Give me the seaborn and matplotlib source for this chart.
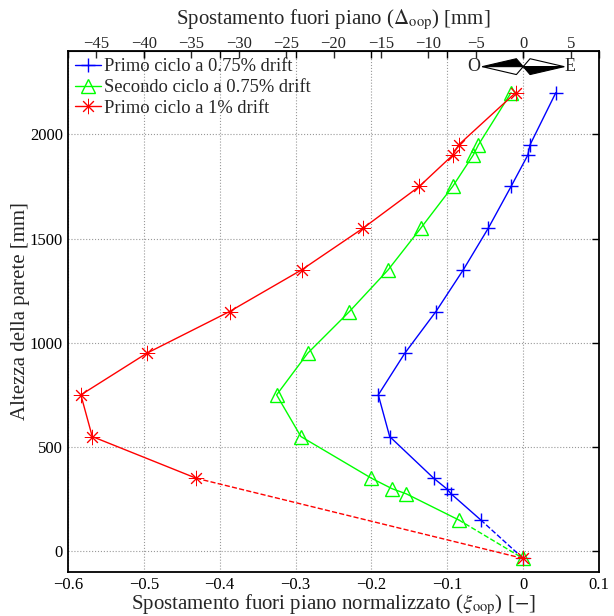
import matplotlib
matplotlib.use('Agg')
import matplotlib.pyplot as plt
from matplotlib.patches import Polygon
import seaborn as sns

# heights along the wall [mm]
heights = [2200, 1950, 1900, 1750, 1550, 1350, 1150, 950, 750, 550, 350, 300, 275, 150]
heights_red = [2200, 1950, 1900, 1750, 1550, 1350, 1150, 950, 750, 550, 350]

# normalised out-of-plane displacement
primo_075 = [0.043, 0.009, 0.006, -0.016, -0.046, -0.079, -0.115, -0.156,
             -0.191, -0.176, -0.118, -0.101, -0.095, -0.056]
secondo_075 = [-0.016, -0.059, -0.066, -0.093, -0.135, -0.178, -0.229, -0.284,
               -0.325, -0.293, -0.200, -0.173, -0.154, -0.085]
primo_1 = [-0.010, -0.085, -0.093, -0.137, -0.211, -0.292, -0.387, -0.496,
           -0.583, -0.568, -0.431]

# base point (foundation)
base_x = 0.0
base_h = -35

thickness = 80  # mm, Delta = xi * thickness

labels = ['Primo ciclo a 0.75% drift', 'Secondo ciclo a 0.75% drift', 'Primo ciclo a 1% drift']
colors = ['#0000ff', '#00ff00', '#ff0000']
markers = ['+', '^', (8, 2, 0)]
msizes = [10, 10, 11]
mews = [1.0, 1.0, 0.7]

sns.set_style('white')
plt.rcParams['font.family'] = ['Liberation Serif', 'DejaVu Serif']
plt.rcParams['mathtext.fontset'] = 'stix'

fig = plt.figure(figsize=(6.14, 6.16), dpi=100)
ax = fig.add_axes([0.1107, 0.0714, 0.865, 0.8458])

series = [(primo_075, heights), (secondo_075, heights), (primo_1, heights_red)]
for (xs, hs), lab, col, mk, ms, mew in zip(series, labels, colors, markers, msizes, mews):
    mfc = 'none' if mk == '^' else col
    sns.lineplot(x=xs, y=hs, sort=False, estimator=None, ax=ax, color=col,
                 marker=mk, markersize=ms, markerfacecolor=mfc,
                 markeredgecolor=col, markeredgewidth=mew, linewidth=1.0,
                 label=lab)
    # dashed link to the base
    sns.lineplot(x=[xs[-1], base_x], y=[hs[-1], base_h], sort=False, estimator=None,
                 ax=ax, color=col, linestyle='--', linewidth=1.0, marker=mk,
                 markersize=ms, markerfacecolor=mfc, markeredgecolor=col,
                 markeredgewidth=mew, markevery=[1], label='_nolegend_')

ax.set_xlim(-0.6, 0.1)
ax.set_ylim(-100, 2400)
ax.set_xticks([-0.6, -0.5, -0.4, -0.3, -0.2, -0.1, 0, 0.1])
ax.set_xticklabels(['\u22120.6', '\u22120.5', '\u22120.4', '\u22120.3', '\u22120.2',
                    '\u22120.1', '0', '0.1'])
ax.set_yticks([0, 500, 1000, 1500, 2000])
ax.tick_params(direction='in', length=5, width=1, top=True, right=True,
               labelsize=12, colors='black')
ax.grid(True, linestyle=':', color='#999999', linewidth=0.8)
for sp in ax.spines.values():
    sp.set_color('black')
    sp.set_linewidth(1.3)

ax.set_xlabel(r'Spostamento fuori piano normalizzato ($\xi_{\rm oop}$) [$-$]',
              fontsize=15, labelpad=0)
ax.set_ylabel('Altezza della parete [mm]', fontsize=15, labelpad=0)

top = ax.secondary_xaxis('top', functions=(lambda x: x * thickness,
                                           lambda d: d / thickness))
top.set_xticks([-45, -40, -35, -30, -25, -20, -15, -10, -5, 0, 5])
top.set_xticklabels(['\u221245', '\u221240', '\u221235', '\u221230', '\u221225',
                     '\u221220', '\u221215', '\u221210', '\u22125', '0', '5'])
top.tick_params(direction='in', length=5, width=1, labelsize=12, pad=-1)
top.set_xlabel(r'Spostamento fuori piano ($\Delta_{\rm oop}$) [mm]', fontsize=15,
               labelpad=9)

leg = ax.legend(loc='upper left', frameon=False, fontsize=13.3, handlelength=1.4,
                handletextpad=0.15, borderaxespad=0.15, labelspacing=0.2,
                borderpad=0.25)

# compass rose (O - E)
cx, cy, L, d, h = 0.0, 2325, 0.054, 0.009, 38
ax.add_patch(Polygon([(cx - L, cy), (cx - d, cy + h), (cx, cy)], closed=True,
                     facecolor='black', edgecolor='black', lw=0.8, zorder=5))
ax.add_patch(Polygon([(cx - L, cy), (cx - d, cy - h), (cx, cy)], closed=True,
                     facecolor='white', edgecolor='black', lw=0.8, zorder=5))
ax.add_patch(Polygon([(cx + L, cy), (cx + d, cy + h), (cx, cy)], closed=True,
                     facecolor='white', edgecolor='black', lw=0.8, zorder=5))
ax.add_patch(Polygon([(cx + L, cy), (cx + d, cy - h), (cx, cy)], closed=True,
                     facecolor='black', edgecolor='black', lw=0.8, zorder=5))
ax.text(cx - L - 0.003, cy, 'O', ha='right', va='center', fontsize=13)
ax.text(cx + L + 0.001, cy, 'E', ha='left', va='center', fontsize=13)

fig.savefig('out.png', dpi=100)
